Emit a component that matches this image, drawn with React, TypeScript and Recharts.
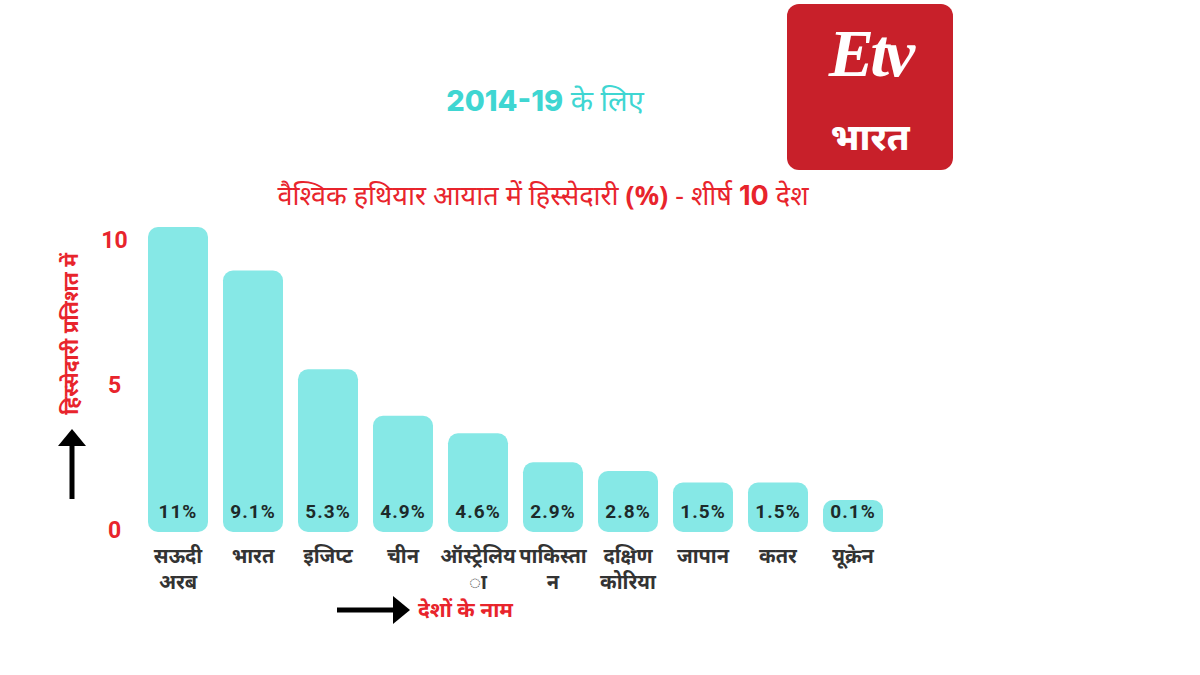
import React from 'react';
import { BarChart, Bar, XAxis, YAxis, LabelList } from 'recharts';

const countries = ['सऊदी अरब', 'भारत', 'इजिप्ट', 'चीन', 'ऑस्ट्रेलिया', 'पाकिस्तान', 'दक्षिण कोरिया', 'जापान', 'कतर', 'यूक्रेन'];
const countryTickLines = [['सऊदी', 'अरब'], ['भारत'], ['इजिप्ट'], ['चीन'], ['ऑस्ट्रेलिय', 'ा'], ['पाकिस्ता', 'न'], ['दक्षिण', 'कोरिया'], ['जापान'], ['कतर'], ['यूक्रेन']];
const barHeights = [10.5, 9.0, 5.6, 4.0, 3.4, 2.4, 2.1, 1.7, 1.7, 1.1];
const shareLabels = ['11%', '9.1%', '5.3%', '4.9%', '4.6%', '2.9%', '2.8%', '1.5%', '1.5%', '0.1%'];
const yTicks = [0, 5, 10];

const data = countries.map((c, i) => ({ country: c, value: barHeights[i], label: shareLabels[i] }));

const RED = '#e8242c';
const FONT = '"Noto Sans", Roboto, sans-serif';

const XTick = (props: any) => {
  const { x, y, payload } = props;
  const lines = countryTickLines[payload.index] || [payload.value];
  return (
    <g>
      {lines.map((l: string, i: number) => (
        <text key={i} x={x} y={y + 23 + i * 26} textAnchor="middle" fill="#333" fontSize={20} fontWeight={700} fontFamily={FONT}>
          {l}
        </text>
      ))}
    </g>
  );
};

const YTick = (props: any) => {
  const { x, y, payload } = props;
  return (
    <text x={x - 18} y={y} dy={6} textAnchor="middle" fill={RED} fontSize={23} fontWeight={700} fontFamily="Roboto, sans-serif">
      {payload.value}
    </text>
  );
};

const ValueLabel = (props: any) => {
  const { x, y, width, height, value } = props;
  return (
    <text x={x + width / 2} y={y + height - 14} textAnchor="middle" fill="#1d2a2a" fontSize={19} fontWeight={700} letterSpacing={1} fontFamily="Roboto, sans-serif">
      {value}
    </text>
  );
};

export default function App() {
  return (
    <div style={{ position: 'absolute', left: 0, top: 0, width: 1200, height: 675, background: '#fff', overflow: 'hidden' }}>
      <div style={{ position: 'absolute', left: 0, width: 1090, top: 80, textAlign: 'center', fontFamily: FONT, color: '#3fd6d2', fontSize: 29 }}>
        <span style={{ fontWeight: 800, fontFamily: 'Inter, sans-serif' }}>2014-19</span>
        <span style={{ fontWeight: 400 }}> के लिए</span>
      </div>
      <div style={{ position: 'absolute', left: 0, width: 1086, top: 176, textAlign: 'center', fontFamily: FONT, color: RED, fontSize: 27 }}>
        वैश्विक हथियार आयात में हिस्सेदारी <b>(%)</b> - शीर्ष <b style={{ fontFamily: 'Inter, sans-serif' }}>10</b> देश
      </div>
      {/* logo */}
      <div style={{ position: 'absolute', left: 787, top: 4, width: 166, height: 166, background: '#c8202a', borderRadius: 12 }}>
        <div style={{ position: 'absolute', left: 0, width: 166, top: 10, textAlign: 'center', color: '#fff', fontFamily: 'serif', fontStyle: 'italic', fontWeight: 700, fontSize: 68, letterSpacing: -4 }}>
          Etv
        </div>
        <div style={{ position: 'absolute', left: 0, width: 166, top: 108, textAlign: 'center', color: '#fff', fontFamily: FONT, fontWeight: 800, fontSize: 36 }}>
          भारत
        </div>
      </div>
      <BarChart width={1200} height={675} data={data} margin={{ top: 227, right: 309.5, bottom: 83, left: 100.5 }} barCategoryGap="10%">
        <XAxis dataKey="country" axisLine={false} tickLine={false} interval={0} height={60} tick={<XTick />} />
        <YAxis type="number" domain={[0, 10.5]} ticks={yTicks} width={40} axisLine={false} tickLine={false} tick={<YTick />} />
        <Bar dataKey="value" fill="#86e8e6" radius={10} isAnimationActive={false}>
          <LabelList dataKey="label" content={<ValueLabel />} />
        </Bar>
      </BarChart>
      {/* y-axis title and arrows */}
      <svg style={{ position: 'absolute', left: 0, top: 0 }} width={1200} height={675}>
        <text transform="translate(78,334) rotate(-90)" textAnchor="middle" fill={RED} fontSize={21} fontWeight={700} fontFamily={FONT}>
          हिस्सेदारी प्रतिशत में
        </text>
        <line x1={72} y1={499} x2={72} y2={444} stroke="#000" strokeWidth={5} />
        <polygon points="58,446 86,446 72,429" fill="#000" />
        <line x1={337} y1={610} x2={395} y2={610} stroke="#000" strokeWidth={5} />
        <polygon points="393,596 393,624 410,610" fill="#000" />
        <text x={418} y={617} fill={RED} fontSize={21} fontWeight={700} fontFamily={FONT}>
          देशों के नाम
        </text>
      </svg>
    </div>
  );
}
